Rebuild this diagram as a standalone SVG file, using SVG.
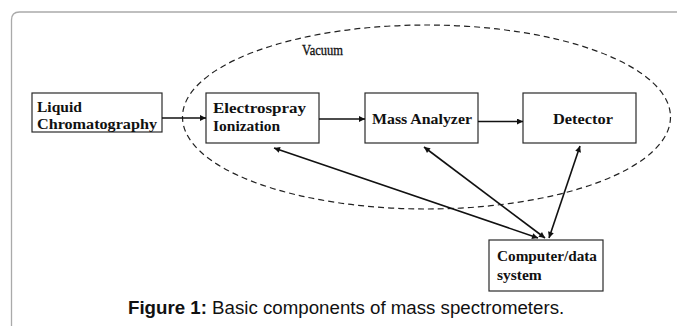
<svg xmlns="http://www.w3.org/2000/svg" width="677" height="326" viewBox="0 0 677 326">
  <style>
    .box { fill: #ffffff; stroke: #2a2a2a; stroke-width: 1.2; }
    .lbl { font-family: "Liberation Serif", "Times New Roman", serif; font-weight: bold; font-size: 15.5px; fill: #111111; }
    .link { stroke: #111111; stroke-width: 1.6; fill: none; }
    .cap { font-family: "Liberation Sans", Arial, sans-serif; font-size: 18.7px; fill: #111111; }
  </style>
  <defs>
    <marker id="head" viewBox="0 0 10 10" refX="10" refY="5" markerUnits="userSpaceOnUse" markerWidth="8" markerHeight="6" orient="auto-start-reverse">
      <path d="M0,0 L10,5 L0,10 z" fill="#111111"/>
    </marker>
  </defs>

  <rect width="677" height="326" fill="#ffffff"/>

  <!-- panel frame -->
  <path d="M11.5,326 V20 Q11.5,12 19.5,12 H677" fill="none" stroke="#aaaaaa" stroke-width="1.3"/>

  <!-- vacuum region -->
  <g id="vacuum">
    <ellipse cx="426.5" cy="117" rx="244" ry="92" fill="none" stroke="#222222" stroke-width="1.2" stroke-dasharray="6,4"/>
    <text x="302" y="55" font-family="Liberation Serif, Times New Roman, serif" font-size="14" fill="#111111" stroke="#111111" stroke-width="0.3" textLength="41" lengthAdjust="spacingAndGlyphs">Vacuum</text>
  </g>

  <!-- components -->
  <g id="lc">
    <rect class="box" x="32" y="93" width="130" height="39"/>
    <text class="lbl" x="37" y="112">Liquid</text>
    <text class="lbl" x="37" y="129" textLength="120" lengthAdjust="spacingAndGlyphs">Chromatography</text>
  </g>
  <g id="esi">
    <rect class="box" x="206" y="93" width="113" height="50"/>
    <text class="lbl" x="213" y="113" textLength="93" lengthAdjust="spacingAndGlyphs">Electrospray</text>
    <text class="lbl" x="213" y="131">Ionization</text>
  </g>
  <g id="analyzer">
    <rect class="box" x="365" y="93" width="113" height="50"/>
    <text class="lbl" x="372" y="124" textLength="100" lengthAdjust="spacingAndGlyphs">Mass Analyzer</text>
  </g>
  <g id="detector">
    <rect class="box" x="523" y="93" width="113" height="50"/>
    <text class="lbl" x="553" y="124" textLength="60" lengthAdjust="spacingAndGlyphs">Detector</text>
  </g>
  <g id="computer">
    <rect class="box" x="489" y="240" width="114" height="51"/>
    <text class="lbl" x="497" y="261" textLength="100" lengthAdjust="spacingAndGlyphs">Computer/data</text>
    <text class="lbl" x="497" y="280">system</text>
  </g>

  <!-- connectors -->
  <g id="connectors">
    <line class="link" x1="162" y1="118" x2="206" y2="118" marker-end="url(#head)"/>
    <line class="link" x1="319" y1="119" x2="365" y2="119" marker-end="url(#head)"/>
    <line class="link" x1="478" y1="121.5" x2="523" y2="121.5" marker-end="url(#head)"/>
    <line class="link" x1="274" y1="148" x2="538" y2="238" marker-start="url(#head)" marker-end="url(#head)"/>
    <line class="link" x1="424" y1="147" x2="545" y2="238" marker-start="url(#head)" marker-end="url(#head)"/>
    <line class="link" x1="580" y1="146" x2="549" y2="238" marker-start="url(#head)" marker-end="url(#head)"/>
  </g>

  <!-- caption -->
  <text class="cap" x="128" y="314"><tspan font-weight="bold">Figure 1:</tspan> Basic components of mass spectrometers.</text>
</svg>
